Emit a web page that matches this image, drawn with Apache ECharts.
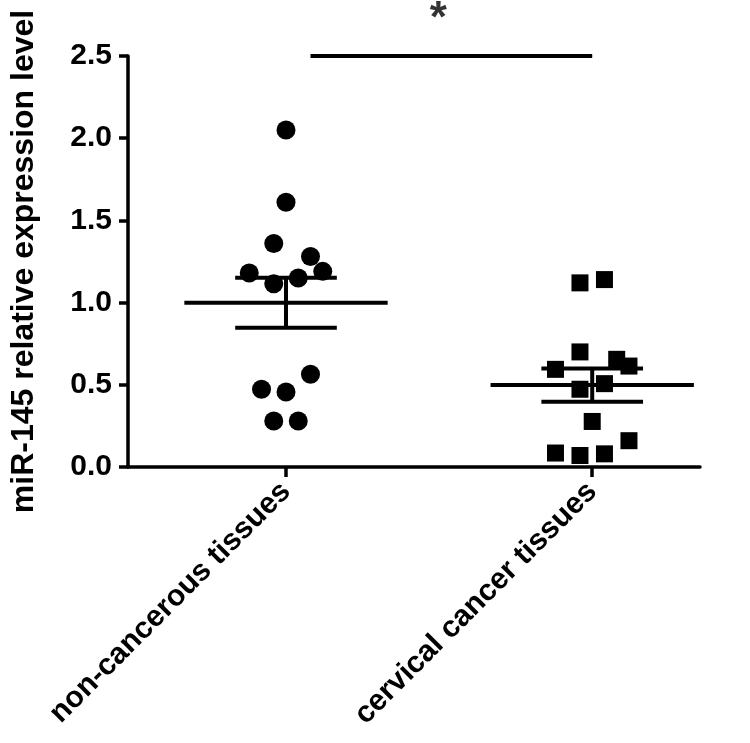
<!DOCTYPE html>
<html>
<head>
<meta charset="utf-8">
<script src="https://cdn.jsdelivr.net/npm/echarts@6/dist/echarts.min.js"></script>
<style>
  html, body { margin: 0; padding: 0; background: #fff; }
  #chart { width: 750px; height: 743px; }
</style>
</head>
<body>
<div id="chart"></div>
<script>
// groups on the x axis (value 1 and 2)
var categories = ['non-cancerous tissues', 'cervical cancer tissues']
var yTicks = [0, 0.5, 1, 1.5, 2, 2.5]

// miR-145 levels
var normalValues = [2.05, 1.61, 1.36, 1.28, 1.18, 1.19, 1.115, 1.15, 0.564, 0.473, 0.456, 0.28, 0.28]
var normalJitter = [0, 0, -0.04, 0.08, -0.12, 0.12, -0.04, 0.04, 0.08, -0.08, 0, -0.04, 0.04]
var cancerValues = [1.12, 1.14, 0.70, 0.594, 0.655, 0.614, 0.473, 0.507, 0.277, 0.16, 0.085, 0.07, 0.08]
var cancerJitter = [-0.04, 0.04, -0.04, -0.12, 0.08, 0.12, -0.04, 0.04, 0, 0.12, -0.12, -0.04, 0.04]

// significance bar from group 1 to group 2
var sigBar = [[1.08, 2.5], [2, 2.5]]
var sigMark = [[1.497, 2.72]]

function meanSem(arr) {
  var n = arr.length
  var m = arr.reduce(function (a, b) { return a + b }, 0) / n
  var v = arr.reduce(function (a, b) { return a + (b - m) * (b - m) }, 0) / (n - 1)
  return [m, Math.sqrt(v) / Math.sqrt(n)]
}

function toPoints(values, jitter, center) {
  return values.map(function (v, i) { return [center + jitter[i], v] })
}

var s1 = meanSem(normalValues)
var s2 = meanSem(cancerValues)
var summary = [[1, s1[0], s1[1]], [2, s2[0], s2[1]]]

var chart = echarts.init(document.getElementById('chart'))
var font = 'Liberation Sans, Arial, sans-serif'

var option = {
  animation: false,
  grid: { left: 126, right: 50, top: 56, bottom: 276 },
  xAxis: {
    type: 'value',
    min: 0.484,
    max: 2.352,
    splitLine: { show: false },
    axisLine: { show: true, lineStyle: { color: '#000', width: 3.5 } },
    axisTick: { show: true, customValues: [1, 2], length: 10, lineStyle: { color: '#000', width: 3.5 } },
    axisLabel: {
      customValues: [1, 2],
      rotate: 45,
      margin: 20,
      color: '#000',
      fontSize: 30,
      fontWeight: 'bold',
      fontFamily: font,
      formatter: function (v) { return categories[Math.round(v) - 1] }
    }
  },
  yAxis: {
    type: 'value',
    min: 0,
    max: 2.5,
    interval: 0.5,
    name: 'miR-145 relative expression level',
    nameLocation: 'middle',
    nameRotate: 90,
    nameGap: 88,
    nameTextStyle: { color: '#000', fontSize: 32, fontWeight: 'bold', fontFamily: font },
    splitLine: { show: false },
    axisLine: { show: true, lineStyle: { color: '#000', width: 3.5 } },
    axisTick: { show: true, length: 9, lineStyle: { color: '#000', width: 3.5 } },
    axisLabel: {
      margin: 16,
      color: '#000',
      fontSize: 30,
      fontWeight: 'bold',
      fontFamily: font,
      formatter: function (v) { return v.toFixed(1) }
    }
  },
  series: [
    {
      type: 'scatter',
      symbol: 'circle',
      symbolSize: 19,
      itemStyle: { color: '#000', opacity: 1 },
      data: toPoints(normalValues, normalJitter, 1)
    },
    {
      type: 'scatter',
      symbol: 'rect',
      symbolSize: 17,
      itemStyle: { color: '#000', opacity: 1 },
      data: toPoints(cancerValues, cancerJitter, 2)
    },
    {
      type: 'custom',
      data: summary,
      renderItem: function (params, api) {
        var c = api.value(0), m = api.value(1), s = api.value(2)
        var st = { stroke: '#000', lineWidth: 4 }
        function seg(x1, y1, x2, y2) {
          var a = api.coord([x1, y1]), b = api.coord([x2, y2])
          return { type: 'line', shape: { x1: a[0], y1: a[1], x2: b[0], y2: b[1] }, style: st }
        }
        return {
          type: 'group',
          children: [
            seg(c - 0.332, m, c + 0.332, m),
            seg(c, m - s, c, m + s),
            seg(c - 0.166, m + s, c + 0.166, m + s),
            seg(c - 0.166, m - s, c + 0.166, m - s)
          ]
        }
      }
    },
    {
      type: 'line',
      data: sigBar,
      symbol: 'none',
      clip: false,
      lineStyle: { color: '#000', width: 4 }
    },
    {
      type: 'scatter',
      data: sigMark,
      symbolSize: 0,
      clip: false,
      label: {
        show: true,
        position: 'inside',
        formatter: '*',
        color: '#000',
        fontSize: 44,
        fontWeight: 'bold',
        fontFamily: font
      }
    }
  ]
}

chart.setOption(option)
window.onresize = function () {
  chart.resize()
}
</script>
</body>
</html>
